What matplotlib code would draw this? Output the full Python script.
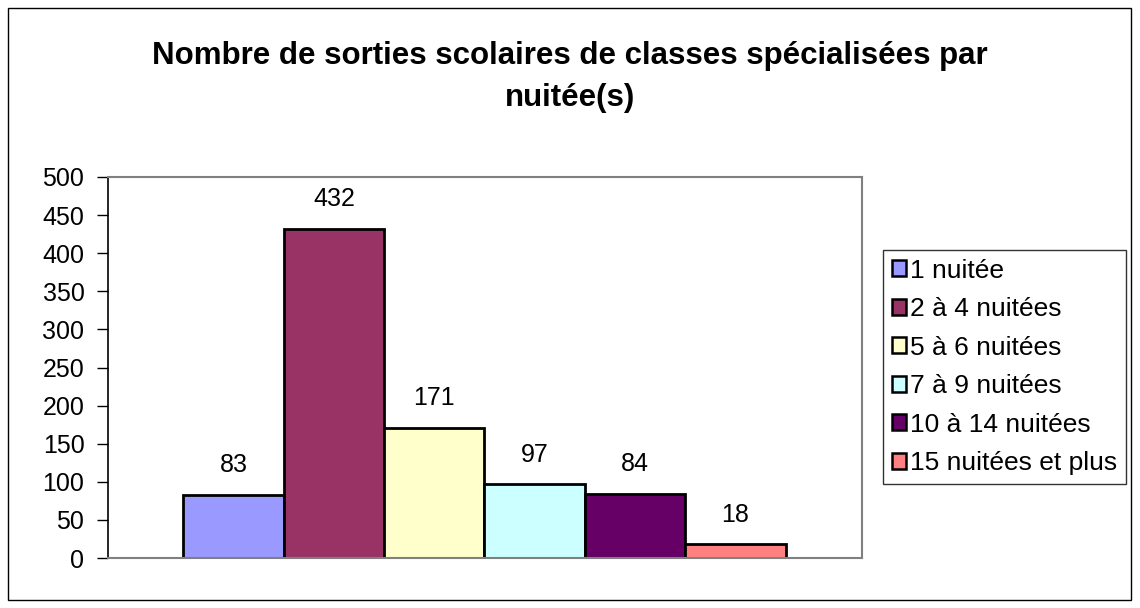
import matplotlib
matplotlib.use("Agg")
import matplotlib.pyplot as plt
from matplotlib.patches import Rectangle

plt.rcParams['font.family'] = ['Liberation Sans', 'DejaVu Sans']

series = ["1 nuitée", "2 à 4 nuitées", "5 à 6 nuitées", "7 à 9 nuitées",
          "10 à 14 nuitées", "15 nuitées et plus"]
values = [83, 432, 171, 97, 84, 18]
colors = ["#9999FF", "#993366", "#FFFFCC", "#CCFFFF", "#660066", "#FF8080"]
yticks = [0, 50, 100, 150, 200, 250, 300, 350, 400, 450, 500]
title = "Nombre de sorties scolaires de classes spécialisées par\nnuitée(s)"

W, H = 1140, 608
fig = plt.figure(figsize=(W / 100, H / 100), dpi=100)
fig.patch.set_facecolor("white")
fig.add_artist(Rectangle((8 / W, 8 / H), (1131 - 8) / W, (600 - 8) / H,
                         transform=fig.transFigure, fill=False,
                         edgecolor="black", linewidth=1))

left, right, top, bottom = 108, 862, 177, 558
ax = fig.add_axes([left / W, 1 - bottom / H, (right - left) / W, (bottom - top) / H])

x = list(range(len(values)))
ax.bar(x, values, width=1.0, color=colors, edgecolor="black", linewidth=2)
for xi, v in zip(x, values):
    ax.text(xi, v + 23, str(v), ha="center", va="bottom", fontsize=18)

ax.set_xlim(-0.5 - 0.75, len(values) - 0.5 + 0.76)
ax.set_ylim(0, 500)
ax.set_yticks(yticks)
ax.set_yticklabels([str(t) for t in yticks], fontsize=18)
ax.set_xticks([])
ax.tick_params(axis="y", direction="out", length=8, width=1, color="black", pad=9)

for s in ["top", "right", "bottom"]:
    ax.spines[s].set_color("#808080")
    ax.spines[s].set_linewidth(1.5)
ax.spines["left"].set_color("black")
ax.spines["left"].set_linewidth(1.2)

fig.text(0.5, 1 - 77 / H, title, ha="center", va="center", fontsize=22.5,
         fontweight="bold", linespacing=1.55)

handles = [Rectangle((0, 0), 1, 1, facecolor=c, edgecolor="black", linewidth=1.8)
           for c in colors]
leg = fig.legend(handles, series, loc="upper left",
                 bbox_to_anchor=(883 / W, 1 - 250 / H), fontsize=19,
                 frameon=True, fancybox=False, handlelength=0.55,
                 handleheight=0.55, handletextpad=0.15, labelspacing=0.55,
                 borderpad=0.33, borderaxespad=0)
leg.get_frame().set_edgecolor("black")
leg.get_frame().set_linewidth(1)

fig.savefig("out.png", dpi=100)
